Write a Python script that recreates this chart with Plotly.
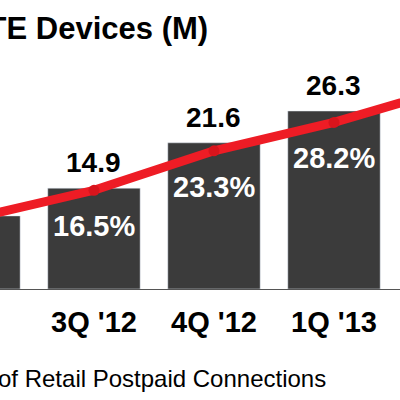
import plotly.graph_objects as go

quarters = ["2Q '12", "3Q '12", "4Q '12", "1Q '13", "2Q '13"]
devices = [10.8, 14.9, 21.6, 26.3, 31.0]
pct = [11.7, 16.5, 23.3, 28.2, 34.3]
device_labels = ["10.8", "14.9", "21.6", "26.3", "31.0"]
pct_labels = ["11.7%", "16.5%", "23.3%", "28.2%", "34.3%"]

fig = go.Figure()
fig.add_bar(x=quarters, y=devices, marker_color="#3b3b3b", width=0.77)
fig.add_scatter(x=quarters, y=pct, yaxis="y2", mode="lines+markers",
                line=dict(color="#ee1c25", width=9),
                marker=dict(color="#d8141c", size=11))

for q, d, t in zip(quarters, devices, device_labels):
    fig.add_annotation(x=q, y=d, text="<b>" + t + "</b>", showarrow=False, yanchor="bottom", yshift=8,
                       font=dict(size=28, color="black"))
for q, p, t in zip(quarters, pct, pct_labels):
    fig.add_annotation(x=q, y=p, yref="y2", text="<b>" + t + "</b>", showarrow=False, yshift=-36,
                       font=dict(size=29, color="white"))
for q in quarters:
    fig.add_annotation(x=q, yref="paper", y=0, yshift=-51, text="<b>" + q + "</b>",
                       showarrow=False, font=dict(size=29, color="black"))

fig.add_annotation(xref="paper", yref="paper", x=0.525, y=1, yshift=-28, yanchor="middle",
                   xanchor="right", text="<b>4G LTE Devices (M)</b>", showarrow=False,
                   font=dict(size=31, color="black"))
fig.add_annotation(xref="paper", yref="paper", x=0.82, y=0, yshift=-89, yanchor="middle",
                   xanchor="right", text="% of Retail Postpaid Connections", showarrow=False,
                   font=dict(size=24, color="black"))

fig.update_layout(
    width=400, height=400, margin=dict(l=0, r=0, t=0, b=111, autoexpand=False),
    plot_bgcolor="white", paper_bgcolor="white", showlegend=False,
    font=dict(family="Liberation Sans", color="black"),
    xaxis=dict(range=[0.217, 3.55], showline=True, linecolor="#555", linewidth=1,
               showticklabels=False, showgrid=False, automargin=False),
    yaxis=dict(range=[0, 42.7], visible=False),
    yaxis2=dict(range=[-0.52, 49.3], overlaying="y", visible=False),
)
fig.write_html("out.html", config={"displayModeBar": False},
               post_script="document.body.style.margin='0';")
